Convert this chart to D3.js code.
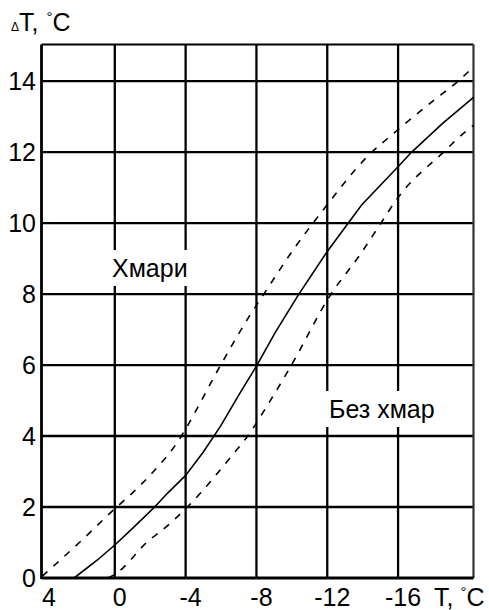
<!DOCTYPE html>
<html>
<head>
<meta charset="utf-8">
<script src="https://cdn.jsdelivr.net/npm/d3@7"></script>
<style>
  html, body { margin: 0; padding: 0; background: #fff; }
  svg { display: block; }
  text { font-family: "Liberation Sans", Arial, sans-serif; fill: #000; }
</style>
</head>
<body>
<svg id="chart" width="489" height="610"></svg>
<script>
// Air temperature T (°C) on the horizontal axis, decreasing to the right
const xGridValues = [0, -4, -8, -12, -16];
const xTickLabels = [4, 0, -4, -8, -12, -16];
const yTickValues = [0, 2, 4, 6, 8, 10, 12, 14];

// Cloudy sky (upper dashed curve)
const cloudyT  = [4.1, 2, 0, -1, -2, -3.76, -4, -6.06, -7.63, -8.38, -10.07, -11.77, -14.22, -15.92, -18, -19.4, -20.26];
const cloudyDT = [0.05, 1.0, 1.95, 2.4, 2.9, 4.0, 4.2, 6.07, 7.4, 7.97, 9.24, 10.37, 11.85, 12.6, 13.45, 14.0, 14.4];

// Mean curve (solid)
const meanT  = [2.3, 1, 0, -1, -2.25, -3, -4, -5, -6, -7, -8, -9.04, -10.36, -12, -13.94, -15.97, -16.77, -18.5, -20.26];
const meanDT = [0, 0.5, 0.93, 1.4, 2.0, 2.4, 2.89, 3.55, 4.3, 5.15, 5.97, 6.9, 7.97, 9.2, 10.51, 11.57, 12.0, 12.8, 13.54];

// Clear sky (lower dashed curve)
const clearT  = [0.39, 0, -1.97, -2.63, -4.1, -6.67, -7.51, -8.54, -9.98, -12.15, -13.84, -14.97, -15.97, -18.57, -19.87, -20.26];
const clearDT = [0, 0.1, 1.08, 1.33, 2.0, 3.48, 4.0, 4.8, 6.0, 7.95, 9.1, 9.95, 10.7, 12.0, 12.6, 12.75];

const svg = d3.select("#chart");

const x = d3.scaleLinear().domain([4.14, -20.26]).range([41.5, 473.5]);
const y = d3.scaleLinear().domain([0, 15.03]).range([578, 44.5]);

const plotLeft = x.range()[0], plotRight = x.range()[1];
const plotBottom = y.range()[0], plotTop = y.range()[1];

// grid
const grid = svg.append("g").attr("stroke", "#000").attr("stroke-width", 2.3);
grid.selectAll("line.v").data(xGridValues).join("line")
  .attr("class", "v")
  .attr("x1", d => x(d)).attr("x2", d => x(d))
  .attr("y1", plotTop).attr("y2", plotBottom);
grid.selectAll("line.h").data(yTickValues.filter(d => d !== 0)).join("line")
  .attr("class", "h")
  .attr("x1", plotLeft).attr("x2", plotRight)
  .attr("y1", d => y(d)).attr("y2", d => y(d));

// frame
svg.append("line").attr("x1", plotLeft).attr("x2", plotRight).attr("y1", plotTop).attr("y2", plotTop)
  .attr("stroke", "#000").attr("stroke-width", 2.2);
svg.append("line").attr("x1", plotRight).attr("x2", plotRight).attr("y1", plotTop).attr("y2", plotBottom)
  .attr("stroke", "#333").attr("stroke-width", 2.2);
svg.append("line").attr("x1", plotLeft).attr("x2", plotRight).attr("y1", plotBottom).attr("y2", plotBottom)
  .attr("stroke", "#000").attr("stroke-width", 2.8);
svg.append("line").attr("x1", plotLeft).attr("x2", plotLeft).attr("y1", plotTop).attr("y2", plotBottom + 1)
  .attr("stroke", "#000").attr("stroke-width", 2.8);

// curve labels on white boxes that cut the grid
function boxedLabel(txt, tx, ty, pad) {
  const g = svg.append("g");
  const t = g.append("text").attr("x", tx).attr("y", ty)
    .attr("font-size", 25).text(txt);
  const b = t.node().getBBox();
  g.insert("rect", "text")
    .attr("x", b.x - pad[0]).attr("y", b.y - pad[1])
    .attr("width", b.width + 2 * pad[0]).attr("height", b.height + 2 * pad[1])
    .attr("fill", "#fff");
}
boxedLabel("Хмари", 112, 277, [3, 4]);
boxedLabel("Без хмар", 329, 418, [5, 4]);

// curves: dashed envelopes are smooth, the mean curve is a polyline
const smoothLine = d3.line().x(d => x(d[0])).y(d => y(d[1])).curve(d3.curveMonotoneX);
const straightLine = d3.line().x(d => x(d[0])).y(d => y(d[1])).curve(d3.curveLinear);
const curves = [
  { t: cloudyT, v: cloudyDT, dash: "7,8", gen: smoothLine },
  { t: meanT, v: meanDT, dash: null, gen: straightLine },
  { t: clearT, v: clearDT, dash: "7,8", gen: smoothLine }
];
svg.append("g").selectAll("path").data(curves).join("path")
  .attr("d", c => c.gen(d3.zip(c.t, c.v)))
  .attr("fill", "none")
  .attr("stroke", "#000")
  .attr("stroke-width", 1.6)
  .attr("stroke-dasharray", c => c.dash);

// y tick labels
svg.append("g").selectAll("text").data(yTickValues).join("text")
  .attr("x", 36).attr("y", d => y(d) + 9)
  .attr("text-anchor", "end")
  .attr("font-size", 25)
  .text(d => d);

// x tick labels
svg.append("g").selectAll("text").data(xTickLabels).join("text")
  .attr("x", d => x(d) + 5).attr("y", 606)
  .attr("text-anchor", "middle")
  .attr("font-size", 25)
  .text(d => d);

// axis titles
const yTitle = svg.append("text").attr("x", 11).attr("y", 31).attr("font-size", 25);
yTitle.append("tspan").attr("font-size", 12).text("Δ");
yTitle.append("tspan").text("T, ");
yTitle.append("tspan").attr("font-size", 15).attr("dy", -9).attr("dx", 1).text("°");
yTitle.append("tspan").attr("dy", 9).text("C");

const xTitle = svg.append("text").attr("x", 434).attr("y", 606).attr("font-size", 25);
xTitle.append("tspan").text("T, ");
xTitle.append("tspan").attr("font-size", 15).attr("dy", -9).text("°");
xTitle.append("tspan").attr("dy", 9).text("C");
</script>
</body>
</html>
